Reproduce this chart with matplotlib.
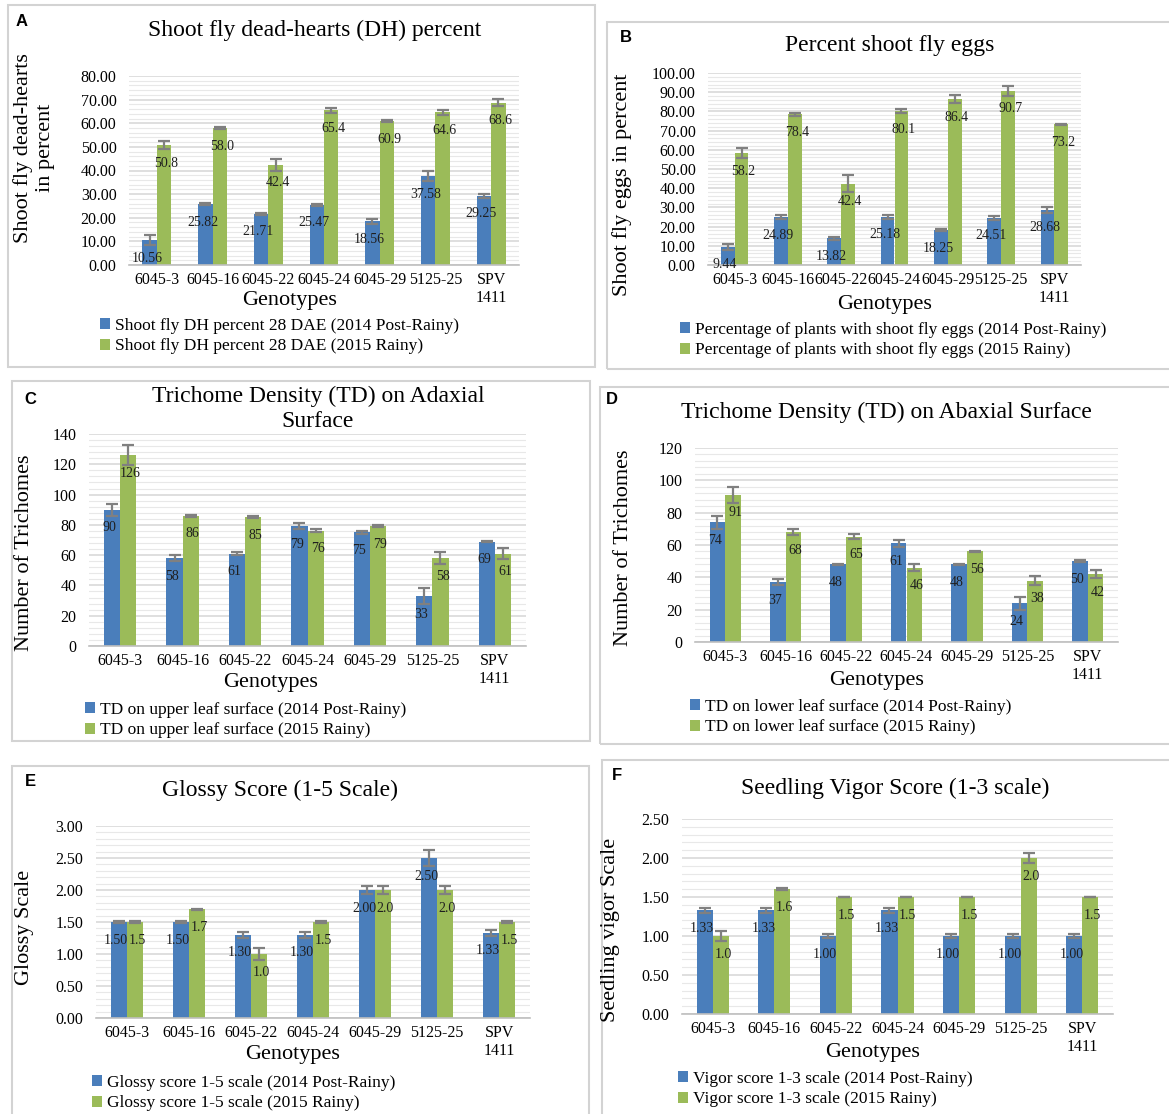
import matplotlib
matplotlib.use('Agg')
import matplotlib.pyplot as plt
from matplotlib.patches import Rectangle
from matplotlib.ticker import MultipleLocator, AutoMinorLocator, FormatStrFormatter
import numpy as np

plt.rcParams['font.family'] = ['Liberation Serif', 'DejaVu Serif']

W, H = 1169, 1114

genotypes = ['6045-3', '6045-16', '6045-22', '6045-24', '6045-29', '5125-25', 'SPV\n1411']

# A - shoot fly dead hearts
dh_2014 = [10.56, 25.82, 21.71, 25.47, 18.56, 37.58, 29.25]
dh_2014_err = [2.0, 0.5, 0.5, 0.5, 1.0, 2.0, 1.0]
dh_2015 = [50.8, 58.0, 42.4, 65.4, 60.9, 64.6, 68.6]
dh_2015_err = [1.5, 0.3, 2.5, 1.0, 0.5, 1.0, 1.5]

# B - shoot fly eggs
eggs_2014 = [9.44, 24.89, 13.82, 25.18, 18.25, 24.51, 28.68]
eggs_2014_err = [1.5, 1.0, 1.0, 1.0, 0.7, 1.0, 1.5]
eggs_2015 = [58.2, 78.4, 42.4, 80.1, 86.4, 90.7, 73.2]
eggs_2015_err = [2.5, 1.0, 4.5, 1.0, 2.0, 2.5, 0.3]

# C - trichomes upper surface
tdu_2014 = [90, 58, 61, 79, 75, 33, 69]
tdu_2014_err = [4.0, 2.0, 1.0, 2.0, 1.0, 5.0, 0.5]
tdu_2015 = [126, 86, 85, 76, 79, 58, 61]
tdu_2015_err = [6.5, 0.7, 0.7, 1.0, 0.7, 4.0, 3.5]

# D - trichomes lower surface
tdl_2014 = [74, 37, 48, 61, 48, 24, 50]
tdl_2014_err = [4.0, 2.0, 0.5, 2.0, 0.4, 4.0, 0.5]
tdl_2015 = [91, 68, 65, 46, 56, 38, 42]
tdl_2015_err = [5.0, 2.0, 1.5, 2.0, 0.4, 3.0, 2.5]

# E - glossy score
gl_2014 = [1.50, 1.50, 1.30, 1.30, 2.00, 2.50, 1.33]
gl_2014_err = [0.01, 0.01, 0.05, 0.05, 0.06, 0.12, 0.05]
gl_2015 = [1.5, 1.7, 1.0, 1.5, 2.0, 2.0, 1.5]
gl_2015_err = [0.01, 0.01, 0.10, 0.01, 0.06, 0.06, 0.01]

# F - seedling vigor
vg_2014 = [1.33, 1.33, 1.00, 1.33, 1.00, 1.00, 1.00]
vg_2014_err = [0.03, 0.03, 0.02, 0.03, 0.02, 0.02, 0.02]
vg_2015 = [1.0, 1.6, 1.5, 1.5, 1.5, 2.0, 1.5]
vg_2015_err = [0.07, 0.01, 0.005, 0.005, 0.005, 0.07, 0.005]

BLUE = '#4a7ebb'
GREEN = '#9bbb59'


def fx(px):
    return px / W


def fy(py):
    return 1 - py / H


panels = [
    dict(letter='A', title='Shoot fly dead-hearts (DH) percent',
         ylabel='Shoot fly dead-hearts\nin percent',
         leg=['Shoot fly DH percent 28 DAE (2014 Post-Rainy)',
              'Shoot fly DH percent 28 DAE (2015 Rainy)'],
         v1=dh_2014, e1=dh_2014_err, v2=dh_2015, e2=dh_2015_err,
         f1='{:.2f}', f2='{:.1f}', tickfmt='%.2f', ymax=80, step=10,
         box=(8, 5, 595, 367), ax=(129, 519, 76, 265), t=(315, 30), yl=(34, 148),
         xl=(290, 300), lg=(100, 318), lt=(22, 22)),
    dict(letter='B', title='Percent shoot fly eggs',
         ylabel='Shoot fly eggs in percent',
         leg=['Percentage of plants with shoot fly eggs (2014 Post-Rainy)',
              'Percentage of plants with shoot fly eggs (2015 Rainy)'],
         v1=eggs_2014, e1=eggs_2014_err, v2=eggs_2015, e2=eggs_2015_err,
         f1='{:.2f}', f2='{:.1f}', tickfmt='%.2f', ymax=100, step=10,
         box=(607, 22, 1175, 369), ax=(708, 1081, 73, 265), t=(890, 45), yl=(622, 185),
         xl=(885, 305), lg=(680, 322), lt=(626, 37)),
    dict(letter='C', title='Trichome Density (TD) on Adaxial\nSurface',
         ylabel='Number of Trichomes',
         leg=['TD on upper leaf surface (2014 Post-Rainy)',
              'TD on upper leaf surface (2015 Rainy)'],
         v1=tdu_2014, e1=tdu_2014_err, v2=tdu_2015, e2=tdu_2015_err,
         f1='{:.0f}', f2='{:.0f}', tickfmt='%d', ymax=140, step=20,
         box=(12, 381, 590, 741), ax=(89, 526, 434, 646), t=(318, 409), yl=(25, 553),
         xl=(271, 682), lg=(85, 702), lt=(30, 400)),
    dict(letter='D', title='Trichome Density (TD) on Abaxial Surface',
         ylabel='Number of Trichomes',
         leg=['TD on lower leaf surface (2014 Post-Rainy)',
              'TD on lower leaf surface (2015 Rainy)'],
         v1=tdl_2014, e1=tdl_2014_err, v2=tdl_2015, e2=tdl_2015_err,
         f1='{:.0f}', f2='{:.0f}', tickfmt='%d', ymax=120, step=20,
         box=(600, 387, 1175, 744), ax=(695, 1118, 448, 642), t=(886, 412), yl=(624, 548),
         xl=(877, 680), lg=(690, 699), lt=(612, 400)),
    dict(letter='E', title='Glossy Score (1-5 Scale)',
         ylabel='Glossy Scale',
         leg=['Glossy score 1-5 scale (2014 Post-Rainy)',
              'Glossy score 1-5 scale (2015 Rainy)'],
         v1=gl_2014, e1=gl_2014_err, v2=gl_2015, e2=gl_2015_err,
         f1='{:.2f}', f2='{:.1f}', tickfmt='%.2f', ymax=3.0, step=0.5,
         box=(12, 766, 589, 1120), ax=(96, 530, 826, 1018), t=(280, 790), yl=(25, 927),
         xl=(293, 1054), lg=(92, 1075), lt=(30, 782)),
    dict(letter='F', title='Seedling Vigor Score (1-3 scale)',
         ylabel='Seedling vigor Scale',
         leg=['Vigor score 1-3 scale (2014 Post-Rainy)',
              'Vigor score 1-3 scale (2015 Rainy)'],
         v1=vg_2014, e1=vg_2014_err, v2=vg_2015, e2=vg_2015_err,
         f1='{:.2f}', f2='{:.1f}', tickfmt='%.2f', ymax=2.5, step=0.5,
         box=(602, 760, 1175, 1120), ax=(682, 1113, 819, 1014), t=(895, 788), yl=(611, 930),
         xl=(873, 1053), lg=(678, 1071), lt=(617, 776)),
]

fig = plt.figure(figsize=(W / 100, H / 100), dpi=100)
fig.patch.set_facecolor('white')

x = np.arange(len(genotypes))
w = 0.26

for p in panels:
    bx0, by0, bx1, by1 = p['box']
    fig.add_artist(Rectangle((fx(bx0), fy(by1)), fx(bx1) - fx(bx0), fy(by0) - fy(by1),
                             transform=fig.transFigure, fill=False,
                             edgecolor='#d3d3d3', lw=1.5))

    ax0, ax1, ay0, ay1 = p['ax']
    ax = fig.add_axes([fx(ax0), fy(ay1), fx(ax1) - fx(ax0), fy(ay0) - fy(ay1)])
    b1 = ax.bar(x - w / 2, p['v1'], w, color=BLUE, zorder=2)
    b2 = ax.bar(x + w / 2, p['v2'], w, color=GREEN, zorder=2)
    ax.errorbar(x - w / 2, p['v1'], yerr=p['e1'], fmt='none', ecolor='#808080',
                elinewidth=1.6, capsize=4, capthick=1.6, zorder=3)
    ax.errorbar(x + w / 2, p['v2'], yerr=p['e2'], fmt='none', ecolor='#808080',
                elinewidth=1.6, capsize=4, capthick=1.6, zorder=3)

    # data labels just inside the bar tops
    for xi, v in zip(x, p['v1']):
        ax.annotate(p['f1'].format(v), (xi - w / 2, v), xytext=(-2, -13),
                    textcoords='offset points', ha='center', va='center',
                    fontsize=10, color='#1f1f1f', zorder=4)
    for xi, v in zip(x, p['v2']):
        ax.annotate(p['f2'].format(v), (xi + w / 2, v), xytext=(1.5, -13),
                    textcoords='offset points', ha='center', va='center',
                    fontsize=10, color='#1f1f1f', zorder=4)

    ax.set_xlim(-0.5, len(genotypes) - 0.5)
    ax.set_ylim(0, p['ymax'])
    ax.yaxis.set_major_locator(MultipleLocator(p['step']))
    ax.yaxis.set_minor_locator(AutoMinorLocator(5))
    ax.yaxis.set_major_formatter(FormatStrFormatter(p['tickfmt']))
    ax.grid(which='major', axis='y', color='#d9d9d9', lw=1.2, zorder=0)
    ax.grid(which='minor', axis='y', color='#e8e8e8', lw=0.8, zorder=0)
    ax.set_axisbelow(True)
    ax.set_xticks(x)
    ax.set_xticklabels(genotypes, fontsize=11.5, linespacing=1.2)
    ax.tick_params(axis='both', which='both', length=0)
    ax.tick_params(axis='y', labelsize=11.5, pad=9)
    ax.tick_params(axis='x', pad=5)
    for s in ['top', 'left', 'right']:
        ax.spines[s].set_visible(False)
    ax.spines['bottom'].set_color('#bfbfbf')
    ax.spines['bottom'].set_linewidth(1.2)

    fig.text(fx(p['t'][0]), fy(p['t'][1]), p['title'], ha='center', va='center',
             fontsize=17, linespacing=1.3)
    fig.text(fx(p['yl'][0]), fy(p['yl'][1]), p['ylabel'], ha='center', va='center',
             rotation=90, fontsize=16, linespacing=1.25)
    fig.text(fx(p['xl'][0]), fy(p['xl'][1]), 'Genotypes', ha='center', va='center',
             fontsize=16)
    fig.text(fx(p['lt'][0]), fy(p['lt'][1]), p['letter'], ha='center', va='center',
             fontsize=12, fontweight='bold', family='Liberation Sans')

    fig.legend([b1, b2], p['leg'], loc='upper left',
               bbox_to_anchor=(fx(p['lg'][0]), fy(p['lg'][1])),
               frameon=False, fontsize=12.5, handlelength=0.6, handleheight=0.6,
               handletextpad=0.25, labelspacing=0.25, borderpad=0, borderaxespad=0)

fig.savefig('out.png', dpi=100, facecolor='white')
